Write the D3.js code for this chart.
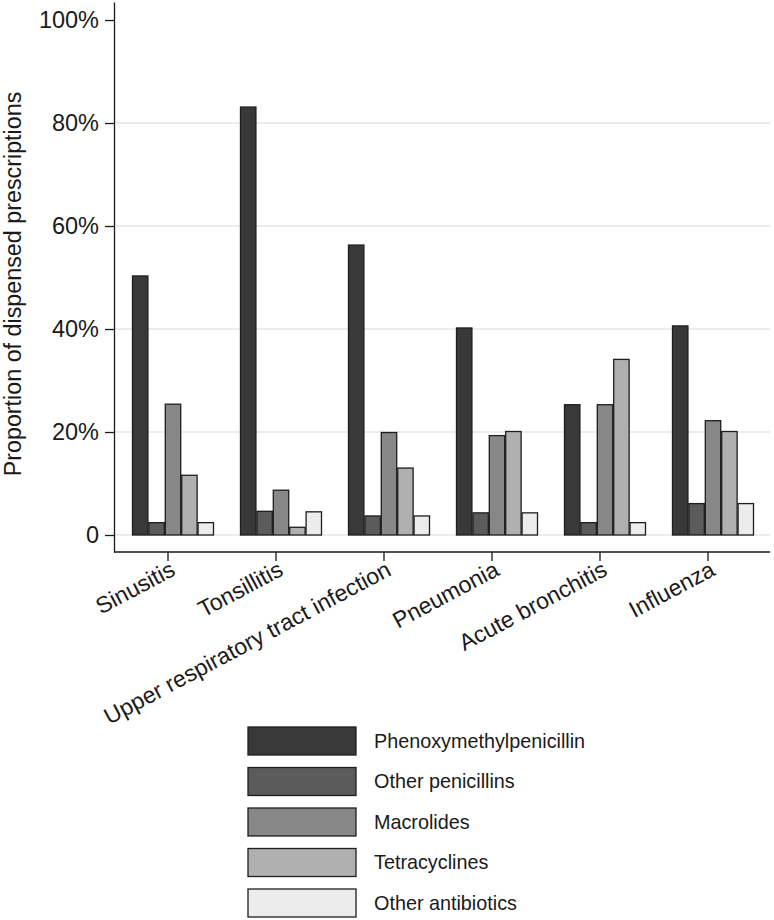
<!DOCTYPE html>
<html><head><meta charset="utf-8">
<script src="https://cdn.jsdelivr.net/npm/d3@7"></script>
<style>
body{margin:0;background:#fff;}
svg text{font-family:Arial,"Liberation Sans",sans-serif;fill:#1a1a1a;}
</style></head>
<body><svg id="c" width="774" height="920"></svg>
<script>
const categories = ["Sinusitis","Tonsillitis","Upper respiratory tract infection","Pneumonia","Acute bronchitis","Influenza"];
const series = ["Phenoxymethylpenicillin","Other penicillins","Macrolides","Tetracyclines","Other antibiotics"];
const phenoxy   = [50.3, 83.1, 56.3, 40.2, 25.3, 40.6];
const otherPen  = [2.4, 4.6, 3.7, 4.3, 2.4, 6.1];
const macrolides= [25.4, 8.7, 19.9, 19.3, 25.3, 22.2];
const tetracyc  = [11.6, 1.5, 13.0, 20.1, 34.1, 20.1];
const otherAb   = [2.4, 4.5, 3.7, 4.3, 2.4, 6.1];
const yTicks = [0,20,40,60,80,100];
const yTickLabels = ["0","20%","40%","60%","80%","100%"];
const colors = ["#393939","#5b5b5b","#878787","#b0b0b0","#ececec"];

const values = [phenoxy, otherPen, macrolides, tetracyc, otherAb];
const svg = d3.select("#c");

const y = d3.scaleLinear().domain([-3.3, 103.5]).range([552, 2]);
const x0 = d3.scaleBand().domain(categories).range([114, 762]);
const x1 = d3.scaleBand().domain(series).range([0, 81]).paddingInner(0.06);

// gridlines
svg.append("g").selectAll("line").data([0,20,40,60,80]).join("line")
  .attr("x1",115).attr("x2",770).attr("y1",d=>y(d)).attr("y2",d=>y(d))
  .attr("stroke","#e6e6e6").attr("stroke-width",1.5);

// bars
const groups = svg.append("g").selectAll("g").data(categories).join("g")
  .attr("transform", c => `translate(${x0(c)+x0.bandwidth()/2+5-40.5},0)`);
groups.selectAll("rect").data((c,i)=>series.map((s,j)=>({s,j,v:values[j][i]}))).join("rect")
  .attr("x", d=>x1(d.s)).attr("width", x1.bandwidth())
  .attr("y", d=>y(d.v)).attr("height", d=>y(0)-y(d.v))
  .attr("fill", d=>colors[d.j]).attr("stroke","#1e1e1e").attr("stroke-width",1.3);

// y axis
const ya = svg.append("g").attr("transform","translate(114,0)")
  .call(d3.axisLeft(y).tickValues(yTicks).tickFormat((d,i)=>yTickLabels[i]).tickSize(9).tickSizeOuter(0).tickPadding(6));
ya.select(".domain").attr("stroke","#1a1a1a").attr("stroke-width",1.3);
ya.selectAll(".tick line").attr("stroke","#1a1a1a").attr("stroke-width",1.3);
ya.selectAll(".tick text").attr("font-size",23.5).attr("fill","#1a1a1a").attr("font-family","Arial,'Liberation Sans',sans-serif");

// x axis
const xa = svg.append("g").attr("transform","translate(0,552)")
  .call(d3.axisBottom(x0).tickSize(9).tickSizeOuter(0).tickFormat(""));
xa.select(".domain").attr("d","M114,0H770").attr("stroke","#1a1a1a").attr("stroke-width",1.3);
xa.selectAll(".tick line").attr("stroke","#1a1a1a").attr("stroke-width",1.3);
xa.selectAll(".tick").each(function(c){
  d3.select(this).append("text")
    .attr("transform","translate(1,8) rotate(-28)")
    .attr("text-anchor","end").attr("dy","0.71em")
    .attr("font-size",23).attr("fill","#1a1a1a")
    .attr("font-family","Arial,'Liberation Sans',sans-serif")
    .text(c);
});

// y title
svg.append("text").attr("transform","translate(21,284) rotate(-90)")
  .attr("text-anchor","middle").attr("font-size",23.3).text("Proportion of dispensed prescriptions");

// legend
const lg = svg.append("g").selectAll("g").data(series).join("g")
  .attr("transform",(d,i)=>`translate(248,${727+i*40.5})`);
lg.append("rect").attr("width",108).attr("height",28)
  .attr("fill",(d,i)=>colors[i]).attr("stroke","#1e1e1e").attr("stroke-width",1.3);
lg.append("text").attr("x",126).attr("y",14).attr("dy","0.35em").attr("font-size",19.8).text(d=>d);
</script></body></html>
